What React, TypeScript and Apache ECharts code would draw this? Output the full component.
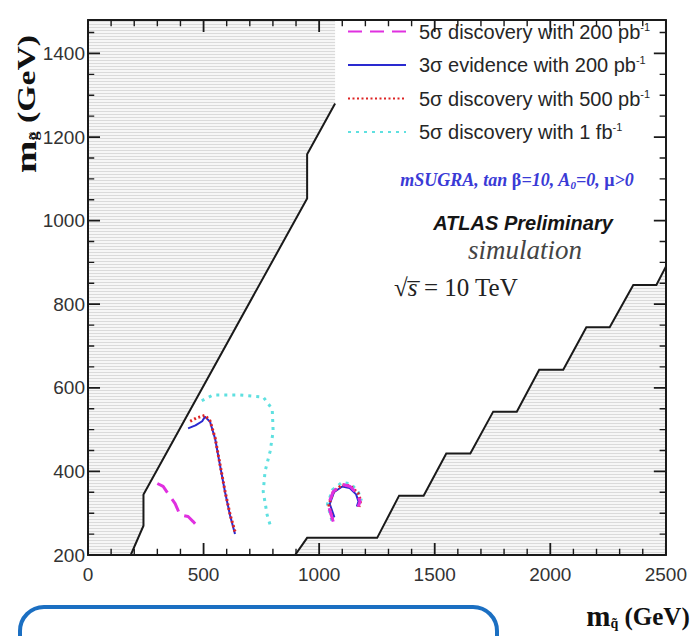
import React, { useEffect, useRef } from 'react';
import * as echarts from 'echarts';

// ---- legend / series names ----
const seriesNames = [
  '5σ discovery with 200 pb',
  '3σ evidence with 200 pb',
  '5σ discovery with 500 pb',
  '5σ discovery with 1 fb',
];
const lumiSup = ['-1', '-1', '-1', '-1'];

// ---- curves (m0 [GeV], m1/2 [GeV]); null = gap ----
const disc200M0 = [300, 325, 355, 377, 398, 433, 455, 476, null, 1061, 1039, 1061, 1100, 1134, 1165, 1177, 1169];
const disc200M12 = [371, 364, 340, 323, 296, 292, 280, 267, null, 280, 320, 352, 369, 364, 347, 328, 316];

const evid200M0 = [433, 465, 494, 506, 528, 550, 571, 593, 615, 636, null, 1066, 1046, 1064, 1100, 1132, 1160, 1170, 1163];
const evid200M12 = [503, 510, 520, 531, 519, 478, 415, 350, 294, 250, null, 290, 322, 350, 364, 360, 345, 328, 316];

const disc500M0 = [442, 470, 506, 528, 550, 571, 593, 615, 638, null, 1058, 1042, 1062, 1100, 1136, 1168, 1180, 1172];
const disc500M12 = [520, 528, 534, 521, 480, 417, 352, 296, 252, null, 285, 320, 352, 368, 365, 348, 330, 315];

const disc1fbM0 = [492, 541, 650, 758, 797, 801, 788, 766, 758, 775, 788, null, 1055, 1036, 1058, 1100, 1138, 1170, 1183];
const disc1fbM12 = [569, 583, 583, 578, 549, 496, 448, 400, 352, 296, 272, null, 282, 322, 356, 374, 370, 350, 330];

// ---- excluded regions ----
const exclLeftM0 = [0, 185, 240, 240, 948, 948, 1069, 1069, 0];
const exclLeftM12 = [200, 200, 270, 345, 1053, 1159, 1280, 1480, 1480];
const exclRightM0 = [896, 948, 1251, 1346, 1452, 1550, 1654, 1753, 1855, 1952, 2056, 2156, 2257, 2359, 2459, 2500, 2500];
const exclRightM12 = [200, 241, 241, 342, 342, 443, 443, 543, 543, 643, 643, 745, 745, 846, 846, 890, 200];

// ---- axes ----
const xRange = [0, 2500];
const xStep = 500;
const xMinorStep = 100;
const yRange = [200, 1480];
const yStep = 200;
const yMinorStep = 50;
// tick lengths expressed in axis units (major, minor)
const xTickLen = [29, 15]; // along y (GeV)
const yTickLen = [52, 27]; // along x (GeV)

function pairs(xs: (number | null)[], ys: (number | null)[]) {
  return xs.map((x, i) => (x === null ? '-' : [x, ys[i]]));
}

function tickData(major: boolean) {
  const out: any[] = [];
  const li = major ? 0 : 1;
  for (let v = xRange[0]; v <= xRange[1]; v += xMinorStep) {
    if ((v % xStep === 0) !== major) continue;
    out.push([v, yRange[0]], [v, yRange[0] + xTickLen[li]], '-');
    out.push([v, yRange[1]], [v, yRange[1] - xTickLen[li]], '-');
  }
  for (let v = yRange[0]; v <= yRange[1]; v += yMinorStep) {
    if ((v % yStep === 0) !== major) continue;
    out.push([xRange[0], v], [xRange[0] + yTickLen[li], v], '-');
    out.push([xRange[1], v], [xRange[1] - yTickLen[li], v], '-');
  }
  return out;
}

function makePattern() {
  const c = document.createElement('canvas');
  c.width = 4;
  c.height = 3;
  const ctx = c.getContext('2d')!;
  ctx.fillStyle = '#f6f6f6';
  ctx.fillRect(0, 0, 4, 3);
  ctx.fillStyle = '#dadada';
  ctx.fillRect(0, 0, 4, 1);
  return { image: c, repeat: 'repeat' };
}

const SANS = '"Liberation Sans", Arial, Helvetica, sans-serif';
const SERIF = '"Liberation Serif", "Times New Roman", serif';

export default function App() {
  const ref = useRef<HTMLDivElement>(null);
  useEffect(() => {
    if (!ref.current) return;
    const chart = echarts.init(ref.current, null, { renderer: 'svg' });
    const pattern = makePattern();

    const regionSeries = (xs: number[], ys: number[], from: number, to: number) => ({
      type: 'custom',
      silent: true,
      z: 1,
      clip: true,
      data: [[xs[0], ys[0]]],
      renderItem: (_p: any, api: any) => {
        const pts = xs.map((x, i) => api.coord([x, ys[i]]));
        return {
          type: 'group',
          children: [
            { type: 'polygon', shape: { points: pts }, style: { fill: pattern, stroke: null } },
            {
              type: 'polyline',
              shape: { points: pts.slice(from, to + 1) },
              style: { stroke: '#1a1a1a', lineWidth: 2, fill: null },
            },
          ],
        };
      },
    });

    const lineSeries = (name: string, data: any[], color: string, width: number, type: any, z: number) => ({
      name,
      type: 'line',
      data,
      symbol: 'none',
      connectNulls: false,
      z,
      lineStyle: { color, width, type, cap: 'butt' },
      itemStyle: { color },
    });

    const tickSeries = (major: boolean) => ({
      name: major ? 'majorTicks' : 'minorTicks',
      type: 'line',
      data: tickData(major),
      symbol: 'none',
      connectNulls: false,
      silent: true,
      clip: false,
      z: 9,
      lineStyle: { color: '#1a1a1a', width: major ? 1.8 : 1.4, type: 'solid', cap: 'butt' },
      itemStyle: { color: '#1a1a1a' },
    });

    const axisCommon = {
      z: 8,
      axisLine: { show: true, onZero: false, lineStyle: { color: '#1a1a1a', width: 2 } },
      axisTick: { show: false },
      minorTick: { show: false },
      splitLine: { show: false },
    };

    const option: any = {
      animation: false,
      grid: { left: 88, right: 23, top: 20, bottom: 81, containLabel: false },
      xAxis: [
        {
          type: 'value', min: xRange[0], max: xRange[1], interval: xStep, position: 'bottom',
          ...axisCommon,
          axisLabel: { show: true, fontSize: 19, color: '#333', fontFamily: SANS, margin: 10, formatter: (v: number) => String(v) },
        },
        {
          type: 'value', min: xRange[0], max: xRange[1], interval: xStep, position: 'top',
          ...axisCommon, axisLabel: { show: false },
        },
      ],
      yAxis: [
        {
          type: 'value', min: yRange[0], max: yRange[1], interval: yStep, position: 'left',
          ...axisCommon,
          axisLabel: {
            show: true, fontSize: 19, color: '#333', fontFamily: SANS, margin: 3,
            formatter: (v: number) => (v % yStep === 0 ? String(v) : ''),
          },
        },
        {
          type: 'value', min: yRange[0], max: yRange[1], interval: yStep, position: 'right',
          ...axisCommon, axisLabel: { show: false },
        },
      ],
      legend: {
        orient: 'vertical',
        left: 347,
        top: 21,
        padding: 0,
        itemWidth: 58,
        itemHeight: 14,
        itemGap: 13,
        data: seriesNames,
        selectedMode: false,
        itemStyle: { color: 'rgba(0,0,0,0)', borderWidth: 0 },
        formatter: (name: string) => {
          const i = seriesNames.indexOf(name);
          return `{t|${name}}{s|${lumiSup[i]}}`;
        },
        textStyle: {
          color: '#262626',
          fontFamily: SANS,
          fontSize: 20,
          rich: {
            t: { fontSize: 20, fontFamily: SANS, color: '#262626', padding: [0, 0, 0, 8] },
            s: { fontSize: 11, fontFamily: SANS, color: '#262626', verticalAlign: 'top', padding: [0, 0, 10, 0] },
          },
        },
      },
      series: [
        regionSeries(exclLeftM0, exclLeftM12, 1, 6),
        regionSeries(exclRightM0, exclRightM12, 0, 15),
        lineSeries(seriesNames[3], pairs(disc1fbM0, disc1fbM12), '#5fe0e0', 3, [3, 5], 3),
        lineSeries(seriesNames[1], pairs(evid200M0, evid200M12), '#2a2ad0', 2, 'solid', 4),
        lineSeries(seriesNames[2], pairs(disc500M0, disc500M12), '#dd2424', 3, [2, 2.5], 5),
        lineSeries(seriesNames[0], pairs(disc200M0, disc200M12), '#e030e0', 3, [14, 8], 6),
        tickSeries(true),
        tickSeries(false),
      ],
      graphic: [
        {
          type: 'text', x: 517, y: 180, z: 10,
          style: {
            text: '{a|mSUGRA, tan }{b|β}{a|=10, A}{c|0}{a|=0, }{b|μ}{a|>0}',
            align: 'center', verticalAlign: 'middle', textAlign: 'center', textVerticalAlign: 'middle',
            rich: {
              a: { fontFamily: SERIF, fontStyle: 'italic', fontWeight: 'bold', fontSize: 18, fill: '#3a3ad6', color: '#3a3ad6' },
              b: { fontFamily: SERIF, fontWeight: 'bold', fontSize: 18, fill: '#3a3ad6', color: '#3a3ad6' },
              c: { fontFamily: SERIF, fontStyle: 'italic', fontWeight: 'bold', fontSize: 11, fill: '#3a3ad6', color: '#3a3ad6', verticalAlign: 'bottom', padding: [10, 0, 0, 0] },
            },
          },
        },
        {
          type: 'text', x: 523, y: 223, z: 10,
          style: {
            text: 'ATLAS Preliminary',
            font: `italic bold 20px ${SANS}`,
            fill: '#151515',
            align: 'center', verticalAlign: 'middle', textAlign: 'center', textVerticalAlign: 'middle',
          },
        },
        {
          type: 'text', x: 525, y: 250, z: 10,
          style: {
            text: 'simulation',
            font: `italic 27px ${SERIF}`,
            fill: '#444',
            align: 'center', verticalAlign: 'middle', textAlign: 'center', textVerticalAlign: 'middle',
          },
        },
        {
          type: 'text', x: 456, y: 287, z: 10,
          style: {
            text: '{r|√}{s|s̅}{n| = 10 TeV}',
            align: 'center', verticalAlign: 'middle', textAlign: 'center', textVerticalAlign: 'middle',
            rich: {
              r: { fontFamily: SERIF, fontSize: 25, fill: '#222', color: '#222' },
              s: { fontFamily: SERIF, fontStyle: 'italic', fontSize: 25, fill: '#222', color: '#222' },
              n: { fontFamily: SERIF, fontSize: 25, fill: '#222', color: '#222' },
            },
          },
        },
        {
          type: 'text', x: 26, y: 104, z: 10, rotation: Math.PI / 2, scaleX: 1.3,
          style: {
            text: '{m|m}{g|g̃}{u| (GeV)}',
            align: 'center', verticalAlign: 'middle', textAlign: 'center', textVerticalAlign: 'middle',
            rich: {
              m: { fontFamily: SERIF, fontWeight: 'bold', fontSize: 30, fill: '#111', color: '#111' },
              g: { fontFamily: SERIF, fontWeight: 'bold', fontSize: 14, fill: '#111', color: '#111', verticalAlign: 'bottom', padding: [12, 0, 0, 0] },
              u: { fontFamily: SERIF, fontWeight: 'bold', fontSize: 26, fill: '#111', color: '#111' },
            },
          },
        },
        {
          type: 'text', x: 638, y: 616, z: 10,
          style: {
            text: '{m|m}{q|q̃}{u| (GeV)}',
            align: 'center', verticalAlign: 'middle', textAlign: 'center', textVerticalAlign: 'middle',
            rich: {
              m: { fontFamily: SERIF, fontWeight: 'bold', fontSize: 29, fill: '#111', color: '#111' },
              q: { fontFamily: SERIF, fontWeight: 'bold', fontSize: 14, fill: '#111', color: '#111', verticalAlign: 'bottom', padding: [14, 0, 0, 0] },
              u: { fontFamily: SERIF, fontWeight: 'bold', fontSize: 25, fill: '#111', color: '#111' },
            },
          },
        },
        {
          type: 'rect', z: 10,
          shape: { x: 20, y: 607, width: 477, height: 80, r: 24 },
          style: { fill: 'none', stroke: '#1b6fc2', lineWidth: 4 },
        },
      ],
    };
    chart.setOption(option);
    return () => chart.dispose();
  }, []);
  return (
    <div
      ref={ref}
      style={{ position: 'absolute', left: 0, top: 0, width: 690, height: 636, background: '#fff' }}
    />
  );
}
